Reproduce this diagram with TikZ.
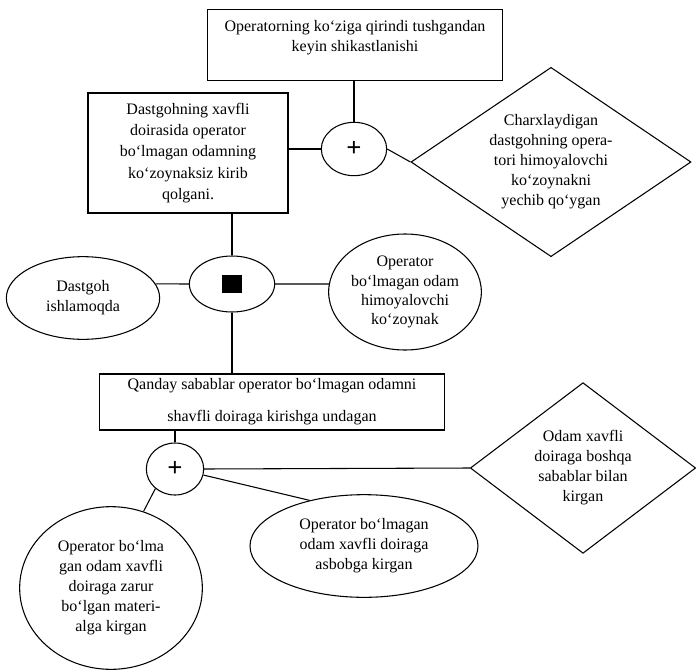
\documentclass[tikz,border=0pt]{standalone}
\usepackage{fontspec}
\setmainfont{Liberation Serif}
\usetikzlibrary{shapes.geometric}

\begin{document}
\begin{tikzpicture}[x=0.75pt,y=0.75pt,yscale=-1,xscale=1,
  every node/.style={font=\fontsize{12}{15}\selectfont, align=center, inner sep=0pt},
  box/.style={draw, rectangle, line width=0.8pt},
  oval/.style={draw, ellipse, line width=0.8pt},
  rhomb/.style={draw, diamond, line width=0.8pt, aspect=1.5},
  gate/.style={draw, ellipse, line width=0.8pt, font=\fontsize{20}{20}\selectfont\bfseries},
  link/.style={line width=0.8pt}]
%set diagram size 696 x 671
\useasboundingbox (0,0) rectangle (696,671);

%Shape: Rectangle [top event]
\node[box, minimum width=221pt, minimum height=53pt, text depth=14pt] (top) at (355,45) {Operatorning ko‘ziga qirindi tushgandan\\keyin shikastlanishi};
%Shape: Ellipse [gate 1]
\node[gate, minimum width=49pt, minimum height=40pt] (plusA) at (354,149) {+};
%Shape: Rectangle
\node[box, minimum width=150pt, minimum height=90pt, font=\fontsize{12}{16}\selectfont] (zone) at (188,153) {Dastgohning xavfli\\doirasida operator\\bo‘lmagan odamning\\ko‘zoynaksiz kirib\\qolgani.};
%Shape: Diamond
\node[rhomb, minimum width=210pt, minimum height=142pt] (goggles) at (551,162) {Charxlaydigan\\dastgohning opera-\\tori himoyalovchi\\ko‘zoynakni\\yechib qo‘ygan};

%Shape: Ellipse [gate 2]
\node[oval, minimum width=64pt, minimum height=42pt] (andB) at (232,284) {\rule{15pt}{13.5pt}};
%Shape: Ellipse
\node[oval, minimum width=115pt, minimum height=62pt] (works) at (83,298) {Dastgoh\\ishlamoqda};
%Shape: Ellipse
\node[oval, minimum width=113pt, minimum height=87pt, font=\fontsize{12}{14.3}\selectfont] (noglass) at (405,292) {Operator\\bo‘lmagan odam\\himoyalovchi\\ko‘zoynak};

%Shape: Rectangle
\node[box, minimum width=259pt, minimum height=42pt, font=\fontsize{12}{24}\selectfont] (why) at (272,402) {Qanday sabablar operator bo‘lmagan odamni\\shavfli doiraga kirishga undagan};
%Shape: Ellipse [gate 3]
\node[gate, minimum width=43pt, minimum height=39pt] (plusC) at (175,469) {+};
%Shape: Diamond
\node[rhomb, aspect=1.3, minimum width=169pt, minimum height=128pt] (other) at (583,468) {Odam xavfli\\doiraga boshqa\\sabablar bilan\\kirgan};
%Shape: Ellipse
\node[oval, minimum width=171pt, minimum height=77pt] (tool) at (364,546) {Operator bo‘lmagan\\odam xavfli doiraga\\asbobga kirgan};
%Shape: Ellipse
\node[oval, minimum width=137pt, minimum height=122pt] (stuff) at (111,588) {Operator bo‘lma\\gan odam xavfli\\doiraga zarur\\bo‘lgan materi-\\alga kirgan};

%Straight Lines
\draw[link] (top.south -| plusA) -- (plusA.north);
\draw[link] (plusA.west) -- (plusA.west -| zone.east);
\draw[link] (plusA.east) -- (goggles.west);
\draw[link] (andB.north) -- (andB.north |- zone.south);
\draw[link] (works.11) -- (andB.west);
\draw[link] (andB.east) -- (noglass.174);
\draw[link] (andB.south) -- (andB.south |- why.north);
\draw[link] (plusC.north) -- (plusC.north |- why.south);
\draw[link] (plusC.east) -- (other.west);
\draw[link] (plusC.-12) -- (tool.140);
\draw[link] (plusC.-135) -- (stuff.67);

\end{tikzpicture}
\end{document}
